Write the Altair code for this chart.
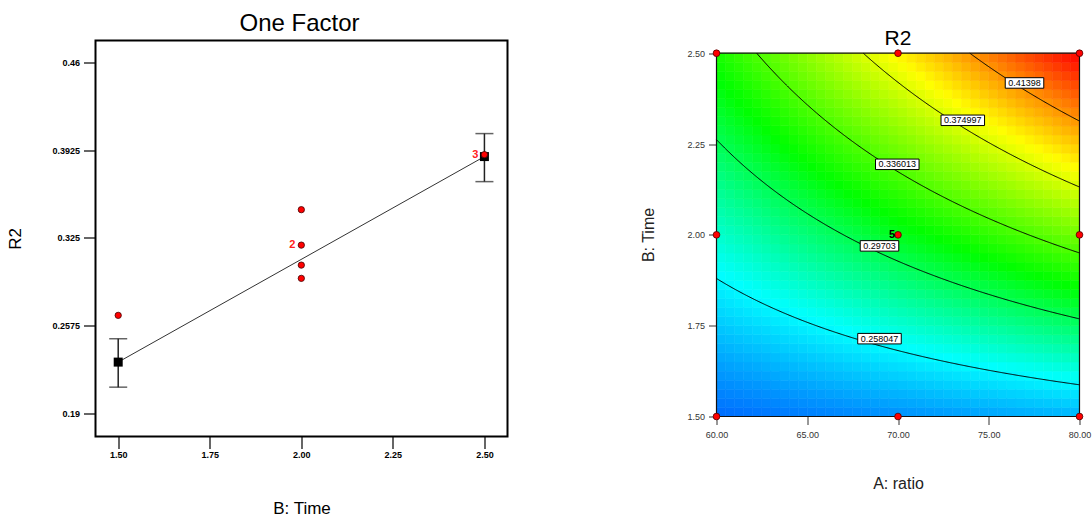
import altair as alt
import numpy as np
import pandas as pd

# ---------------- One Factor plot data ----------------
obs_time = [1.5, 2.0, 2.0, 2.0, 2.0, 2.5]
obs_r2 = [0.2653, 0.3467, 0.3194, 0.3040, 0.2938, 0.3891]
obs_label = ["", "", "2", "", "", "3"]
pred_time = [1.5, 2.5]
pred_r2 = [0.2293, 0.3876]
ci_low = [0.2100, 0.3683]
ci_high = [0.2473, 0.4053]
left_x_ticks = [1.5, 1.75, 2.0, 2.25, 2.5]
left_y_ticks = [0.19, 0.2575, 0.325, 0.3925, 0.46]
left_x_domain = [1.438, 2.563]
left_y_domain = [0.172, 0.477]

# ---------------- Contour plot data ----------------
# fitted response surface in coded units: b0 + bA*A + bB*B + bAB*A*B
coef_values = [0.3085, 0.0382, 0.0792, 0.0282]
contour_levels = [0.258047, 0.29703, 0.336013, 0.374997, 0.41398]
contour_label_text = ["0.258047", "0.29703", "0.336013", "0.374997", "0.41398"]
contour_label_ratio = [68.98, 68.98, 69.96, 73.57, 76.97]
design_ratio = [60, 60, 60, 70, 70, 70, 80, 80, 80]
design_time = [1.5, 2.0, 2.5, 1.5, 2.0, 2.5, 1.5, 2.0, 2.5]
design_label = ["", "", "", "", "5", "", "", "", ""]
ratio_ticks = [60, 65, 70, 75, 80]
time_ticks = [1.5, 1.75, 2.0, 2.25, 2.5]
ratio_range = [60, 80]
time_range = [1.5, 2.5]
time_axis_top = 2.535  # plot area runs a little above the frame (room for the title)
color_stops = [0.19, 0.26, 0.315, 0.385, 0.454]
color_range = ["#0000ff", "#00ffff", "#00ff00", "#ffff00", "#ff0000"]
grid_n = 40

FONT = "Liberation Sans"

# ---------- helpers ----------
b0, bA, bB, bAB = coef_values
def to_ratio(a):
    return ratio_range[0] + (a + 1) / 2 * (ratio_range[1] - ratio_range[0])
def to_time(b):
    return time_range[0] + (b + 1) / 2 * (time_range[1] - time_range[0])
def to_a(r):
    return (r - ratio_range[0]) / (ratio_range[1] - ratio_range[0]) * 2 - 1
def surf(a, b):
    return b0 + bA * a + bB * b + bAB * a * b
def contour_b(L, a):
    return (L - b0 - bA * a) / (bB + bAB * a)

one_row = pd.DataFrame({"k": [0]})

# ---------- left chart ----------
obs_df = pd.DataFrame({"t": obs_time, "r": obs_r2, "lab": obs_label})
pred_df = pd.DataFrame({"t": pred_time, "r": pred_r2, "lo": ci_low, "hi": ci_high})

LW, LH = 412, 396
lx = alt.X("t:Q", scale=alt.Scale(domain=left_x_domain, nice=False, zero=False),
           axis=alt.Axis(values=left_x_ticks, format=".2f", title="B: Time",
                         labelFontSize=9, labelFontWeight="bold", labelColor="#000",
                         tickSize=12, tickColor="#000", tickWidth=1.2, labelPadding=2,
                         labelFlush=False, domain=False, grid=False, titleFontSize=17,
                         titleFontWeight="normal", titlePadding=41, titleColor="#000"))
ly = alt.Y("r:Q", scale=alt.Scale(domain=left_y_domain, nice=False, zero=False),
           axis=alt.Axis(values=left_y_ticks, format=".4~f", title="R2",
                         labelFontSize=9, labelFontWeight="bold", labelColor="#000",
                         tickSize=12, tickColor="#000", tickWidth=1.2, labelPadding=4,
                         labelFlush=False, domain=False, grid=False, titleFontSize=17,
                         titleFontWeight="normal", titlePadding=27, titleColor="#000"))

fit_line = alt.Chart(pred_df).mark_line(color="#333", strokeWidth=1).encode(x=lx, y=ly)
err_rule = alt.Chart(pred_df).mark_rule(color="#222", strokeWidth=1.5).encode(
    x="t:Q", y="lo:Q", y2="hi:Q")
cap_lo = alt.Chart(pred_df).mark_tick(orient="horizontal", size=18, thickness=1.5, color="#222").encode(
    x="t:Q", y="lo:Q")
cap_hi = alt.Chart(pred_df).mark_tick(orient="horizontal", size=18, thickness=1.5, color="#222").encode(
    x="t:Q", y="hi:Q")
pred_sq = alt.Chart(pred_df).mark_square(size=81, color="black", opacity=1).encode(x="t:Q", y="r:Q")
obs_pts = alt.Chart(obs_df).mark_point(filled=True, size=40, fill="#ff0000", stroke="#400000",
                                       strokeWidth=0.8, opacity=1).encode(x="t:Q", y="r:Q")
obs_txt = alt.Chart(obs_df).mark_text(dx=-9, fontSize=11, fontWeight="bold", color="#ff2020",
                                      font=FONT).encode(x="t:Q", y="r:Q", text="lab:N")
title_l = alt.Chart(one_row).mark_text(text="One Factor", fontSize=24, font=FONT, color="#000",
                                       baseline="alphabetic", align="center").encode(
    x=alt.value(LW / 2 - 2), y=alt.value(-10))
spacer_l = alt.Chart(one_row).mark_rule(color="white", strokeWidth=1).encode(
    x=alt.value(0), x2=alt.value(1), y=alt.value(-35))

left = alt.layer(spacer_l, title_l, fit_line, err_rule, cap_lo, cap_hi, pred_sq, obs_pts,
                 obs_txt).properties(
    width=LW, height=LH,
    view=alt.ViewBackground(stroke="black", strokeWidth=2),
)

# ---------- right chart ----------
edges = np.linspace(-1, 1, grid_n + 1)
cells = []
for i in range(grid_n):
    for j in range(grid_n):
        ac = (edges[i] + edges[i + 1]) / 2
        bc = (edges[j] + edges[j + 1]) / 2
        cells.append({"x0": to_ratio(edges[i]), "x1": to_ratio(edges[i + 1]),
                      "y0": to_time(edges[j]), "y1": to_time(edges[j + 1]),
                      "v": surf(ac, bc)})
cell_df = pd.DataFrame(cells)

crow = []
for L in contour_levels:
    pts = []
    for a in np.linspace(-1, 1, 401):
        b = contour_b(L, a)
        if -1 <= b <= 1:
            pts.append((a, b))
    for bb in (-1.0, 1.0):
        a = (L - b0 - bB * bb) / (bA + bAB * bb)
        if -1 <= a <= 1:
            pts.append((a, bb))
    pts.sort()
    for k, (a, b) in enumerate(pts):
        crow.append({"lev": L, "ord": k, "A": to_ratio(a), "B": to_time(b)})
cont_df = pd.DataFrame(crow)

lab_rows = []
for L, txt, r in zip(contour_levels, contour_label_text, contour_label_ratio):
    a = to_a(r)
    w = 9 * (0.556 * (len(txt) - 1) + 0.278) + 6
    h = 10.5
    q = h / w
    lab_rows.append({"A": r, "B": to_time(contour_b(L, a)), "txt": txt,
                     "path": f"M-1,-{q:.4f}H1V{q:.4f}H-1Z", "sz": w * w})
lab_df = pd.DataFrame(lab_rows)

des_df = pd.DataFrame({"A": design_ratio, "B": design_time, "lab": design_label})
frame_df = pd.DataFrame({"a0": [ratio_range[0]], "a1": [ratio_range[1]],
                         "t0": [time_range[0]], "t1": [time_range[1]]})

RW, RH = 363, 376
rx_scale = alt.Scale(domain=ratio_range, nice=False, zero=False)
ry_scale = alt.Scale(domain=[time_range[0], time_axis_top], nice=False, zero=False)
rx_axis = alt.Axis(values=ratio_ticks, format=".2f", title="A: ratio", labelFontSize=9,
                   labelColor="#333", tickSize=8, tickColor="#333", labelPadding=6,
                   labelFlush=False, domain=False, grid=False, titleFontSize=16,
                   titleFontWeight="normal", titlePadding=36, titleColor="#222")
ry_axis = alt.Axis(values=time_ticks, format=".2f", title="B: Time", labelFontSize=9,
                   labelColor="#333", tickSize=8, tickColor="#333", labelPadding=4,
                   labelFlush=False, domain=False, grid=False, titleFontSize=16,
                   titleFontWeight="normal", titlePadding=30, titleColor="#222", titleY=194)
cscale = alt.Scale(domain=color_stops, range=color_range, interpolate="rgb", clamp=True)

heat = alt.Chart(cell_df).mark_rect(strokeWidth=0.6).encode(
    x=alt.X("x0:Q", scale=rx_scale, axis=rx_axis), x2="x1:Q",
    y=alt.Y("y0:Q", scale=ry_scale, axis=ry_axis), y2="y1:Q",
    fill=alt.Fill("v:Q", scale=cscale, legend=None),
    stroke=alt.Stroke("v:Q", scale=cscale, legend=None),
)
frame = alt.Chart(frame_df).mark_rect(fill=None, stroke="#111", strokeWidth=1.2).encode(
    x="a0:Q", x2="a1:Q", y="t0:Q", y2="t1:Q")
cont = alt.Chart(cont_df).mark_line(color="black", strokeWidth=1).encode(
    x="A:Q", y="B:Q", detail="lev:N", order="ord:Q")
lab_box = alt.Chart(lab_df).mark_point(filled=True, fill="white", stroke="black", strokeWidth=1,
                                       opacity=1, yOffset=-7).encode(
    x="A:Q", y="B:Q", shape=alt.Shape("path:N", scale=None), size=alt.Size("sz:Q", scale=None))
lab_txt = alt.Chart(lab_df).mark_text(fontSize=9, color="black", font=FONT, yOffset=-7).encode(
    x="A:Q", y="B:Q", text="txt:N")
des_pts = alt.Chart(des_df).mark_point(filled=True, size=45, fill="#ff0000", stroke="#500000",
                                       strokeWidth=0.8, opacity=1).encode(x="A:Q", y="B:Q")
des_txt = alt.Chart(des_df).mark_text(dx=-6, fontSize=11, fontWeight="bold", color="black",
                                      font=FONT).encode(x="A:Q", y="B:Q", text="lab:N")
title_r = alt.Chart(one_row).mark_text(text="R2", fontSize=21, font=FONT, color="#000",
                                       baseline="alphabetic", align="center").encode(
    x=alt.value(RW / 2), y=alt.value(4))

right = alt.layer(heat, frame, cont, lab_box, lab_txt, des_pts, des_txt, title_r).properties(
    width=RW, height=RH,
    view=alt.ViewBackground(stroke=None),
)

chart = alt.hconcat(left, right, spacing=132).properties(
    padding={"left": 5.5, "top": 3.5, "right": 0, "bottom": 0},
    background="white",
).configure(font=FONT).configure_axis(labelFont=FONT, titleFont=FONT)

chart.save("out.html", embed_options={"renderer": "svg", "actions": False})
